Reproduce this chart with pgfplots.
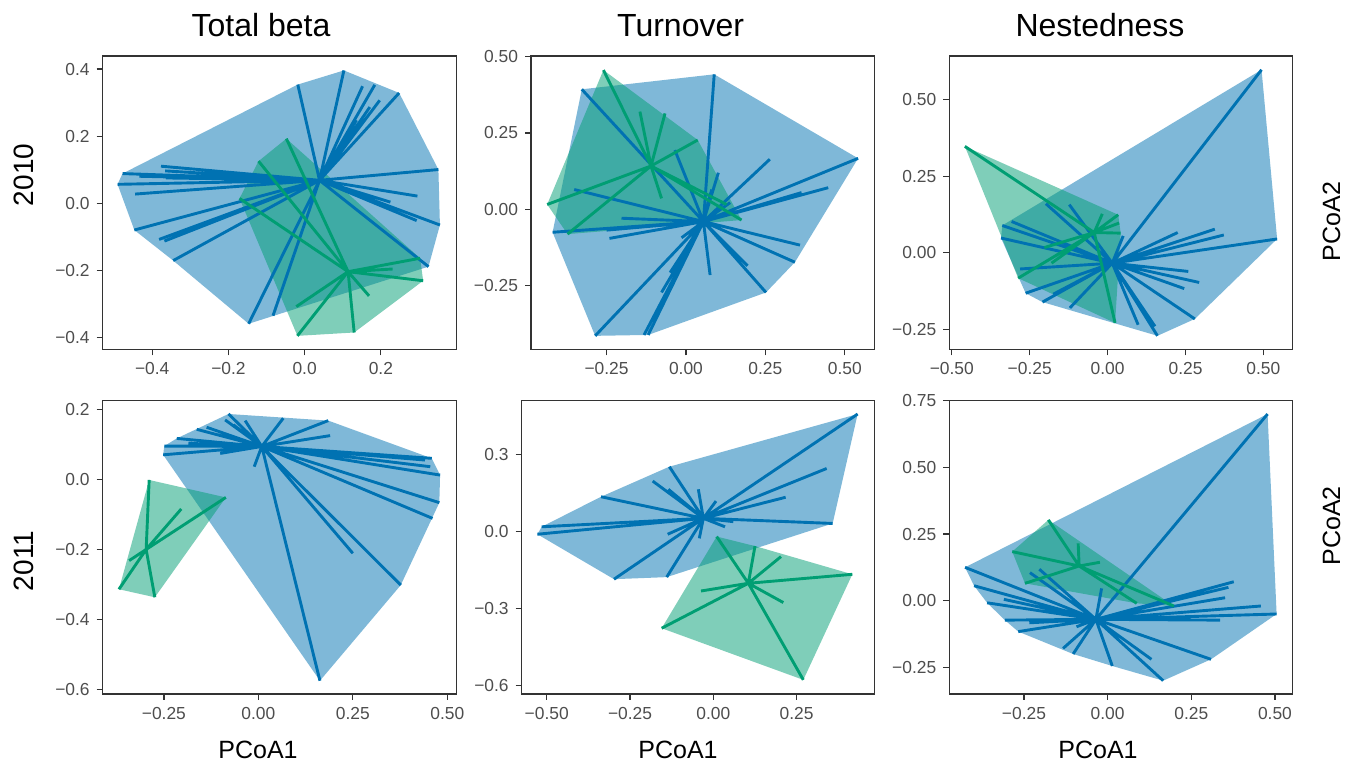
\documentclass[border=0pt]{standalone}
\usepackage{fontspec}
\setmainfont{Liberation Sans}
\usepackage{pgfplots}
\pgfplotsset{compat=1.18}
\definecolor{bl}{HTML}{0072B2}
\definecolor{gr}{HTML}{009E73}
\definecolor{frame}{HTML}{333333}
\definecolor{tlab}{HTML}{4D4D4D}
\pgfplotsset{
  panel/.style={
    scale only axis, anchor=south west,
    axis line style={draw=frame, line width=0.7pt},
    tick style={draw=frame, line width=0.6pt},
    major tick length=3pt, tick align=outside, tick pos=left,
    minor tick num=0,
    ticklabel style={font=\fontsize{8.7}{10}\selectfont, text=tlab},
    unbounded coords=jump,
  },
  hullb/.style={draw=none, fill=bl, fill opacity=0.5},
  hullg/.style={draw=none, fill=gr, fill opacity=0.5},
  spb/.style={bl, line width=1.45pt, mark=none},
  spg/.style={gr, line width=1.45pt, mark=none},
}
\begin{document}
\begin{tikzpicture}
\path[use as bounding box] (0,0) rectangle (678pt,382.5pt);

% ---------- 2010 Total beta
\begin{axis}[panel, at={(51.35pt,207.85pt)}, width=177pt, height=146.65pt,
  xmin=-0.530, xmax=0.399, ymin=-0.434, ymax=0.439,
  xtick={-0.4,-0.2,0,0.2}, xticklabels={−0.4,−0.2,0.0,0.2},
  ytick={-0.4,-0.2,0,0.2,0.4}, yticklabels={−0.4,−0.2,0.0,0.2,0.4}]
\addplot[hullb] coordinates {(-0.491,0.057) (-0.478,0.089) (-0.018,0.354) (0.103,0.396) (0.248,0.329) (0.351,0.101) (0.355,-0.064) (0.325,-0.188) (-0.147,-0.358) (-0.345,-0.170) (-0.447,-0.079)};
\addplot[hullg] coordinates {(-0.048,0.193) (-0.121,0.126) (-0.171,0.015) (-0.019,-0.394) (0.130,-0.384) (0.311,-0.230) (0.303,-0.163)};
\addplot[spb] coordinates {
(0.039,0.069)(-0.478,0.089)(nan,nan) (0.039,0.069)(-0.491,0.057)(nan,nan)
(0.039,0.069)(-0.447,-0.079)(nan,nan) (0.039,0.069)(-0.345,-0.170)(nan,nan)
(0.039,0.069)(-0.147,-0.358)(nan,nan) (0.039,0.069)(-0.018,0.354)(nan,nan)
(0.039,0.069)(0.103,0.396)(nan,nan) (0.039,0.069)(0.248,0.329)(nan,nan)
(0.039,0.069)(0.351,0.101)(nan,nan) (0.039,0.069)(0.355,-0.064)(nan,nan)
(0.039,0.069)(0.325,-0.188)(nan,nan) (0.039,0.069)(-0.377,0.111)(nan,nan)
(0.039,0.069)(-0.445,0.028)(nan,nan) (0.039,0.069)(-0.382,-0.107)(nan,nan)
(0.039,0.069)(-0.368,-0.112)(nan,nan) (0.039,0.069)(-0.083,-0.334)(nan,nan)
(0.039,0.069)(0.152,0.349)(nan,nan) (0.039,0.069)(0.184,0.353)(nan,nan)
(0.039,0.069)(0.197,0.307)(nan,nan) (0.039,0.069)(0.296,0.022)(nan,nan)
(0.039,0.069)(0.225,0.004)(nan,nan) (0.039,0.069)(0.294,-0.051)(nan,nan)
(0.039,0.069)(-0.434,0.081)(nan,nan) (0.039,0.069)(-0.364,0.076)(nan,nan)
(0.039,0.069)(-0.366,0.097)(nan,nan) (0.039,0.069)(0.136,0.248)(nan,nan)
(0.039,0.069)(0.171,0.287)
};
\addplot[spg] coordinates {
(0.114,-0.203)(-0.048,0.193)(nan,nan) (0.114,-0.203)(-0.121,0.126)(nan,nan)
(0.114,-0.203)(-0.171,0.015)(nan,nan) (0.114,-0.203)(-0.022,-0.307)(nan,nan)
(0.114,-0.203)(-0.019,-0.394)(nan,nan) (0.114,-0.203)(0.130,-0.384)(nan,nan)
(0.114,-0.203)(0.169,-0.275)(nan,nan) (0.114,-0.203)(0.311,-0.230)(nan,nan)
(0.114,-0.203)(0.303,-0.163)(nan,nan) (0.114,-0.203)(0.231,-0.195)
};
\end{axis}

% ---------- 2010 Turnover
\begin{axis}[panel, at={(265.5pt,207.85pt)}, width=171.65pt, height=146.65pt,
  xmin=-0.488, xmax=0.593, ymin=-0.458, ymax=0.502,
  xtick={-0.25,0,0.25,0.5}, xticklabels={−0.25,0.00,0.25,0.50},
  ytick={-0.25,0,0.25,0.5}, yticklabels={−0.25,0.00,0.25,0.50}]
\addplot[hullb] coordinates {(-0.328,0.393) (0.089,0.442) (0.542,0.167) (0.343,-0.173) (0.252,-0.272) (-0.119,-0.411) (-0.286,-0.414) (-0.420,-0.075)};
\addplot[hullg] coordinates {(-0.260,0.456) (0.037,0.227) (0.175,-0.035) (-0.373,-0.081) (-0.437,0.016)};
\addplot[spb] coordinates {
(0.055,-0.040)(-0.328,0.393)(nan,nan) (0.055,-0.040)(0.089,0.442)(nan,nan)
(0.055,-0.040)(0.542,0.167)(nan,nan) (0.055,-0.040)(0.343,-0.173)(nan,nan)
(0.055,-0.040)(0.252,-0.272)(nan,nan) (0.055,-0.040)(-0.119,-0.411)(nan,nan)
(0.055,-0.040)(-0.132,-0.411)(nan,nan) (0.055,-0.040)(-0.286,-0.414)(nan,nan)
(0.055,-0.040)(-0.420,-0.075)(nan,nan) (0.055,-0.040)(-0.352,0.065)(nan,nan)
(0.055,-0.040)(-0.203,-0.029)(nan,nan) (0.055,-0.040)(-0.241,-0.095)(nan,nan)
(0.055,-0.040)(-0.035,0.194)(nan,nan) (0.055,-0.040)(0.102,0.120)(nan,nan)
(0.055,-0.040)(0.264,0.164)(nan,nan) (0.055,-0.040)(0.448,0.071)(nan,nan)
(0.055,-0.040)(0.364,0.055)(nan,nan) (0.055,-0.040)(0.359,-0.117)(nan,nan)
(0.055,-0.040)(0.194,-0.185)(nan,nan) (0.055,-0.040)(0.076,-0.215)(nan,nan)
(0.055,-0.040)(-0.077,-0.272)(nan,nan) (0.055,-0.040)(-0.050,-0.207)(nan,nan)
(0.055,-0.040)(-0.014,-0.093)(nan,nan) (0.055,-0.040)(0.139,0.022)(nan,nan)
(0.055,-0.040)(-0.250,-0.068)(nan,nan) (0.055,-0.040)(0.081,0.065)
};
\addplot[spg] coordinates {
(-0.110,0.142)(-0.260,0.456)(nan,nan) (-0.110,0.142)(-0.437,0.016)(nan,nan)
(-0.110,0.142)(-0.373,-0.081)(nan,nan) (-0.110,0.142)(-0.145,0.320)(nan,nan)
(-0.110,0.142)(-0.066,0.314)(nan,nan) (-0.110,0.142)(-0.077,0.036)(nan,nan)
(-0.110,0.142)(0.037,0.227)(nan,nan) (-0.110,0.142)(0.175,-0.035)(nan,nan)
(-0.110,0.142)(0.128,0.016)
};
\end{axis}

% ---------- 2010 Nestedness
\begin{axis}[panel, at={(474.65pt,207.85pt)}, width=171.7pt, height=146.65pt,
  xmin=-0.508, xmax=0.594, ymin=-0.315, ymax=0.642,
  xtick={-0.5,-0.25,0,0.25,0.5}, xticklabels={−0.50,−0.25,0.00,0.25,0.50},
  ytick={-0.25,0,0.25,0.5}, yticklabels={−0.25,0.00,0.25,0.50}]
\addplot[hullb] coordinates {(0.494,0.597) (0.544,0.045) (0.280,-0.216) (0.160,-0.271) (-0.209,-0.161) (-0.263,-0.132) (-0.342,0.048) (-0.338,0.089)};
\addplot[hullg] coordinates {(-0.458,0.347) (0.034,0.124) (0.042,0.064) (0.024,-0.229) (-0.287,-0.083)};
\addplot[spb] coordinates {
(0.015,-0.034)(0.494,0.597)(nan,nan) (0.015,-0.034)(0.544,0.045)(nan,nan)
(0.015,-0.034)(0.280,-0.216)(nan,nan) (0.015,-0.034)(0.160,-0.271)(nan,nan)
(0.015,-0.034)(-0.263,-0.132)(nan,nan) (0.015,-0.034)(-0.342,0.048)(nan,nan)
(0.015,-0.034)(-0.338,0.089)(nan,nan) (0.015,-0.034)(-0.198,0.160)(nan,nan)
(0.015,-0.034)(-0.123,0.157)(nan,nan) (0.015,-0.034)(-0.308,0.102)(nan,nan)
(0.015,-0.034)(-0.281,-0.053)(nan,nan) (0.015,-0.034)(-0.209,-0.161)(nan,nan)
(0.015,-0.034)(-0.121,-0.180)(nan,nan) (0.015,-0.034)(0.098,-0.235)(nan,nan)
(0.015,-0.034)(0.152,-0.240)(nan,nan) (0.015,-0.034)(0.294,-0.097)(nan,nan)
(0.015,-0.034)(0.246,-0.117)(nan,nan) (0.015,-0.034)(0.259,-0.061)(nan,nan)
(0.015,-0.034)(0.225,0.066)(nan,nan) (0.015,-0.034)(0.344,0.077)(nan,nan)
(0.015,-0.034)(0.373,0.058)(nan,nan) (0.015,-0.034)(0.050,0.055)(nan,nan)
(0.015,-0.034)(-0.174,-0.135)
};
\addplot[spg] coordinates {
(-0.043,0.066)(-0.458,0.347)(nan,nan) (-0.043,0.066)(-0.287,-0.083)(nan,nan)
(-0.043,0.066)(0.024,-0.229)(nan,nan) (-0.043,0.066)(0.037,0.097)(nan,nan)
(-0.043,0.066)(0.034,0.124)(nan,nan) (-0.043,0.066)(-0.017,0.127)(nan,nan)
(-0.043,0.066)(0.042,0.064)(nan,nan) (-0.043,0.066)(-0.203,0.017)(nan,nan)
(-0.043,0.066)(-0.180,-0.034)
};
\end{axis}

% ---------- 2011 Total beta
\begin{axis}[panel, at={(51.35pt,35.5pt)}, width=177pt, height=146.65pt,
  xmin=-0.412, xmax=0.525, ymin=-0.614, ymax=0.226,
  xtick={-0.25,0,0.25,0.5}, xticklabels={−0.25,0.00,0.25,0.50},
  ytick={-0.6,-0.4,-0.2,0,0.2}, yticklabels={−0.6,−0.4,−0.2,0.0,0.2}]
\addplot[hullb] coordinates {(-0.079,0.188) (0.185,0.169) (0.459,0.061) (0.481,0.013) (0.479,-0.066) (0.377,-0.302) (0.163,-0.576) (-0.252,0.071) (-0.249,0.096) (-0.216,0.118)};
\addplot[hullg] coordinates {(-0.289,-0.001) (-0.086,-0.051) (-0.274,-0.337) (-0.369,-0.314)};
\addplot[spb] coordinates {
(0.009,0.095)(-0.079,0.188)(nan,nan) (0.009,0.095)(0.185,0.169)(nan,nan)
(0.009,0.095)(0.459,0.061)(nan,nan) (0.009,0.095)(0.481,0.013)(nan,nan)
(0.009,0.095)(0.479,-0.066)(nan,nan) (0.009,0.095)(0.461,-0.111)(nan,nan)
(0.009,0.095)(0.377,-0.302)(nan,nan) (0.009,0.095)(0.163,-0.576)(nan,nan)
(0.009,0.095)(-0.252,0.071)(nan,nan) (0.009,0.095)(-0.249,0.096)(nan,nan)
(0.009,0.095)(-0.216,0.118)(nan,nan) (0.009,0.095)(-0.163,0.144)(nan,nan)
(0.009,0.095)(-0.137,0.150)(nan,nan) (0.009,0.095)(-0.035,0.169)(nan,nan)
(0.009,0.095)(-0.088,0.171)(nan,nan) (0.009,0.095)(0.066,0.176)(nan,nan)
(0.009,0.095)(0.190,0.126)(nan,nan) (0.009,0.095)(-0.011,0.037)(nan,nan)
(0.009,0.095)(0.250,-0.211)(nan,nan) (0.009,0.095)(0.455,0.037)(nan,nan)
(0.009,0.095)(0.441,0.056)(nan,nan) (0.009,0.095)(-0.101,0.075)(nan,nan)
(0.009,0.095)(-0.066,0.157)(nan,nan) (0.009,0.095)(-0.185,0.104)
};
\addplot[spg] coordinates {
(-0.297,-0.200)(-0.289,-0.001)(nan,nan) (-0.297,-0.200)(-0.086,-0.051)(nan,nan)
(-0.297,-0.200)(-0.274,-0.337)(nan,nan) (-0.297,-0.200)(-0.369,-0.314)(nan,nan)
(-0.297,-0.200)(-0.342,-0.232)(nan,nan) (-0.297,-0.200)(-0.204,-0.084)
};
\end{axis}

% ---------- 2011 Turnover
\begin{axis}[panel, at={(260.85pt,35.5pt)}, width=176.3pt, height=146.65pt,
  xmin=-0.575, xmax=0.483, ymin=-0.632, ymax=0.510,
  xtick={-0.5,-0.25,0,0.25}, xticklabels={−0.50,−0.25,0.00,0.25},
  ytick={-0.6,-0.3,0,0.3}, yticklabels={−0.6,−0.3,0.0,0.3}]
\addplot[hullb] coordinates {(-0.132,0.253) (0.433,0.458) (0.358,0.032) (-0.140,-0.177) (-0.298,-0.185) (-0.528,-0.010) (-0.515,0.019) (-0.337,0.136)};
\addplot[hullg] coordinates {(0.010,-0.019) (0.125,-0.056) (0.417,-0.166) (0.270,-0.577) (-0.155,-0.376)};
\addplot[spb] coordinates {
(-0.030,0.052)(0.433,0.458)(nan,nan) (-0.030,0.052)(0.358,0.032)(nan,nan)
(-0.030,0.052)(0.340,0.246)(nan,nan) (-0.030,0.052)(0.217,0.134)(nan,nan)
(-0.030,0.052)(-0.132,0.253)(nan,nan) (-0.030,0.052)(-0.182,0.197)(nan,nan)
(-0.030,0.052)(-0.337,0.136)(nan,nan) (-0.030,0.052)(-0.515,0.019)(nan,nan)
(-0.030,0.052)(-0.528,-0.010)(nan,nan) (-0.030,0.052)(-0.298,-0.185)(nan,nan)
(-0.030,0.052)(-0.140,-0.177)(nan,nan) (-0.030,0.052)(-0.045,0.165)(nan,nan)
(-0.030,0.052)(0.008,0.119)(nan,nan) (-0.030,0.052)(-0.137,-0.010)(nan,nan)
(-0.030,0.052)(-0.042,-0.026)(nan,nan) (-0.030,0.052)(0.035,0.019)(nan,nan)
(-0.030,0.052)(-0.135,0.165)(nan,nan) (-0.030,0.052)(0.060,0.039)
};
\addplot[spg] coordinates {
(0.105,-0.201)(0.010,-0.019)(nan,nan) (0.105,-0.201)(0.125,-0.056)(nan,nan)
(0.105,-0.201)(0.203,-0.097)(nan,nan) (0.105,-0.201)(0.417,-0.166)(nan,nan)
(0.105,-0.201)(0.270,-0.577)(nan,nan) (0.105,-0.201)(-0.155,-0.376)(nan,nan)
(0.105,-0.201)(-0.037,-0.231)(nan,nan) (0.105,-0.201)(0.210,-0.276)
};
\end{axis}

% ---------- 2011 Nestedness
\begin{axis}[panel, at={(474.65pt,35.5pt)}, width=171.7pt, height=146.65pt,
  xmin=-0.473, xmax=0.553, ymin=-0.35, ymax=0.75,
  xtick={-0.25,0,0.25,0.5}, xticklabels={−0.25,0.00,0.25,0.50},
  ytick={-0.25,0,0.25,0.5,0.75}, yticklabels={−0.25,0.00,0.25,0.50,0.75}]
\addplot[hullb] coordinates {(0.478,0.700) (0.505,-0.050) (0.309,-0.220) (0.166,-0.300) (0.014,-0.245) (-0.103,-0.200) (-0.267,-0.116) (-0.307,-0.073) (-0.360,-0.008) (-0.399,0.056) (-0.426,0.125)};
\addplot[hullg] coordinates {(-0.177,0.303) (0.198,-0.020) (0.087,-0.010) (-0.247,0.065) (-0.285,0.184)};
\addplot[spb] coordinates {
(-0.035,-0.070)(0.478,0.700)(nan,nan) (-0.035,-0.070)(0.505,-0.050)(nan,nan)
(-0.035,-0.070)(0.309,-0.220)(nan,nan) (-0.035,-0.070)(0.166,-0.300)(nan,nan)
(-0.035,-0.070)(-0.267,-0.116)(nan,nan) (-0.035,-0.070)(-0.426,0.125)(nan,nan)
(-0.035,-0.070)(-0.399,0.056)(nan,nan) (-0.035,-0.070)(-0.360,-0.008)(nan,nan)
(-0.035,-0.070)(-0.310,0.005)(nan,nan) (-0.035,-0.070)(-0.307,-0.073)(nan,nan)
(-0.035,-0.070)(-0.234,-0.083)(nan,nan) (-0.035,-0.070)(-0.232,0.105)(nan,nan)
(-0.035,-0.070)(-0.204,0.118)(nan,nan) (-0.035,-0.070)(-0.133,-0.179)(nan,nan)
(-0.035,-0.070)(-0.103,-0.200)(nan,nan) (-0.035,-0.070)(0.014,-0.245)(nan,nan)
(-0.035,-0.070)(0.131,-0.220)(nan,nan) (-0.035,-0.070)(0.336,-0.073)(nan,nan)
(-0.035,-0.070)(0.458,-0.020)(nan,nan) (-0.035,-0.070)(0.377,0.071)(nan,nan)
(-0.035,-0.070)(0.361,0.050)(nan,nan) (-0.035,-0.070)(0.351,0.011)(nan,nan)
(-0.035,-0.070)(-0.018,0.046)(nan,nan) (-0.035,-0.070)(-0.093,-0.098)
};
\addplot[spg] coordinates {
(-0.085,0.130)(-0.177,0.303)(nan,nan) (-0.085,0.130)(-0.285,0.184)(nan,nan)
(-0.085,0.130)(-0.247,0.065)(nan,nan) (-0.085,0.130)(-0.088,0.215)(nan,nan)
(-0.085,0.130)(-0.023,0.144)(nan,nan) (-0.085,0.130)(0.087,-0.010)(nan,nan)
(-0.085,0.130)(0.198,-0.020)
};
\end{axis}

% ---------- titles and labels
\begin{scope}[every node/.style={inner sep=0pt, anchor=base}]
\node[font=\fontsize{16}{19}\selectfont] at (130.5pt,364.15pt) {Total beta};
\node[font=\fontsize{16}{19}\selectfont] at (340.3pt,364.15pt) {Turnover};
\node[font=\fontsize{16}{19}\selectfont] at (550pt,364.15pt) {Nestedness};
\node[font=\fontsize{12.5}{15}\selectfont] at (129pt,3pt) {PCoA1};
\node[font=\fontsize{12.5}{15}\selectfont] at (339pt,3pt) {PCoA1};
\node[font=\fontsize{12.5}{15}\selectfont] at (549pt,3pt) {PCoA1};
\node[font=\fontsize{12.5}{15}\selectfont, rotate=90] at (670pt,271.65pt) {PCoA2};
\node[font=\fontsize{12.5}{15}\selectfont, rotate=90] at (670pt,119.5pt) {PCoA2};
\node[font=\fontsize{14}{17}\selectfont, rotate=90] at (16.5pt,295pt) {2010};
\node[font=\fontsize{14}{17}\selectfont, rotate=90] at (16.5pt,102pt) {2011};
\end{scope}
\end{tikzpicture}
\end{document}
